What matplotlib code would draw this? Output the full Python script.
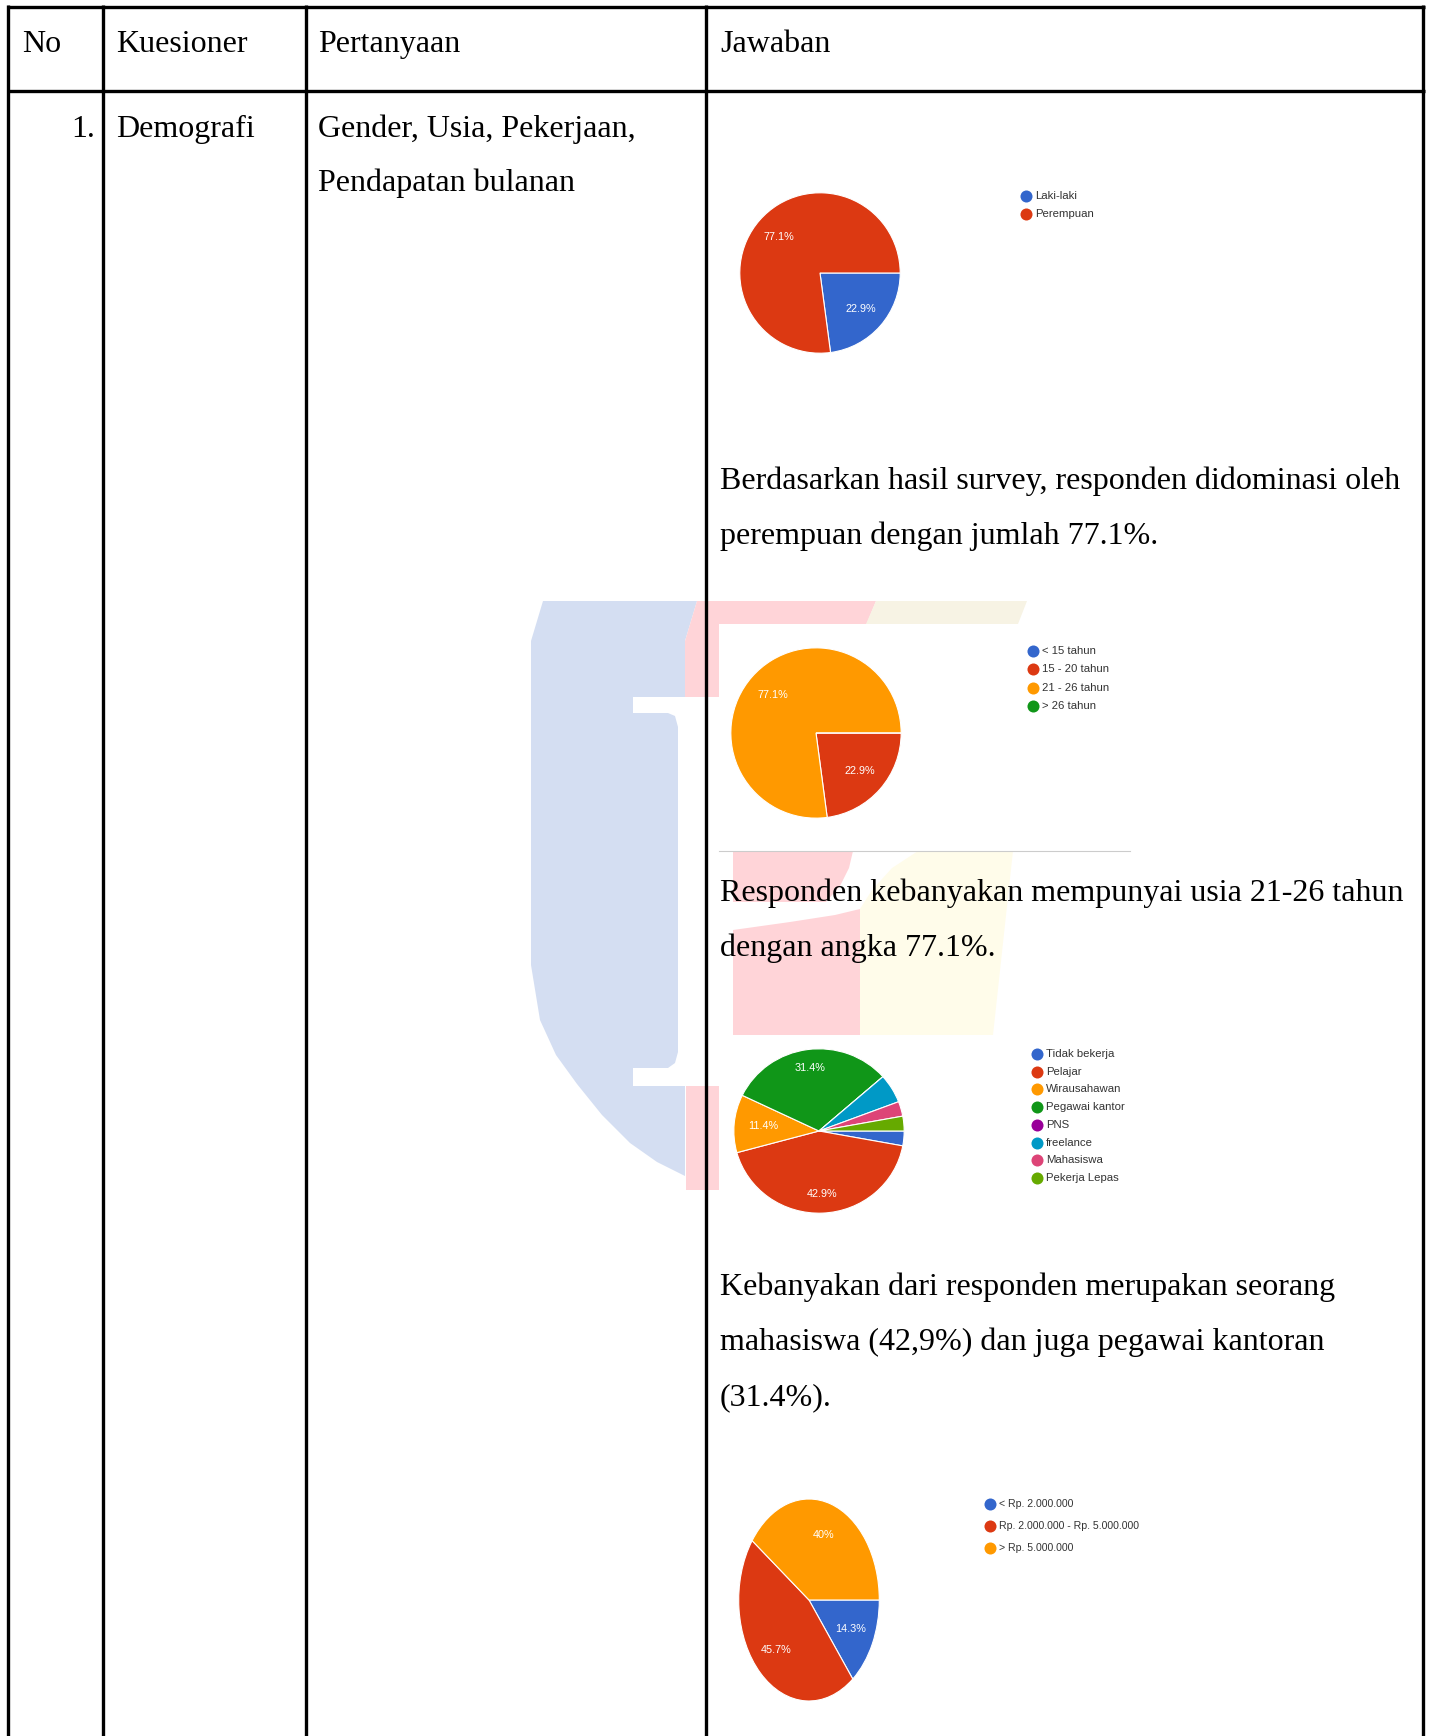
import numpy as np
import matplotlib
matplotlib.use("Agg")
import matplotlib.pyplot as plt
from matplotlib.patches import Polygon, Rectangle

W, H = 1429, 1736

# --- data ---
header = ['No', 'Kuesioner', 'Pertanyaan', 'Jawaban']
row_no = '1.'
row_kuesioner = 'Demografi'
row_pertanyaan = ['Gender, Usia, Pekerjaan,', 'Pendapatan bulanan']

gender_labels = ['Laki-laki', 'Perempuan']
gender_values = [22.9, 77.1]
age_labels = ['< 15 tahun', '15 - 20 tahun', '21 - 26 tahun', '> 26 tahun']
age_values = [0, 22.9, 77.1, 0]
job_labels = ['Tidak bekerja', 'Pelajar', 'Wirausahawan', 'Pegawai kantor',
              'PNS', 'freelance', 'Mahasiswa', 'Pekerja Lepas']
job_values = [2.9, 42.9, 11.4, 31.4, 0, 5.7, 2.9, 2.9]
income_labels = ['< Rp. 2.000.000', 'Rp. 2.000.000 - Rp. 5.000.000', '> Rp. 5.000.000']
income_values = [14.3, 45.7, 40]

text_gender = ['Berdasarkan hasil survey, responden didominasi oleh',
               'perempuan dengan jumlah 77.1%.']
text_age = ['Responden kebanyakan mempunyai usia 21-26 tahun',
            'dengan angka 77.1%.']
text_job = ['Kebanyakan dari responden merupakan seorang',
            'mahasiswa (42,9%) dan juga pegawai kantoran',
            '(31.4%).']

google = ['#3366CC', '#DC3912', '#FF9900', '#109618',
          '#990099', '#0099C6', '#DD4477', '#66AA00']

fig = plt.figure(figsize=(W / 100, H / 100), dpi=100)
ax = fig.add_axes([0, 0, 1, 1])
ax.set_xlim(0, W)
ax.set_ylim(H, 0)
ax.axis('off')

# --- faint logo watermark behind the table ---
wm_blue = '#D4DEF2'
wm_pink = '#FFD4D8'
wm_cream = '#FFFCEA'
blue = [(543, 601), (697, 601), (685, 641), (685, 1176), (657, 1162), (630, 1143),
        (602, 1115), (577, 1084), (556, 1055), (540, 1020), (531, 965), (531, 641)]
ax.add_patch(Polygon(blue, closed=True, fc=wm_blue, ec='none', zorder=1))
# white "I" cut-out with slightly rounded inner corners
cut = [(633, 697), (733, 697), (733, 1086), (633, 1086), (633, 1068),
       (668, 1068), (675, 1063), (678, 1052), (678, 727), (675, 716),
       (668, 713), (633, 713)]
ax.add_patch(Polygon(cut, closed=True, fc='white', ec='none', zorder=1.5))
pink1 = [(697, 601), (876, 601), (860, 640), (719, 640), (719, 697), (685, 697), (685, 641)]
ax.add_patch(Polygon(pink1, closed=True, fc=wm_pink, ec='none', zorder=1))
cream1 = [(876, 601), (1027, 601), (1018, 624), (866, 624)]
ax.add_patch(Polygon(cream1, closed=True, fc='#F7F3E4', ec='none', zorder=1))
pink2 = [(733, 851), (853, 851), (849, 868), (840, 886), (826, 902), (733, 902)]
ax.add_patch(Polygon(pink2, closed=True, fc=wm_pink, ec='none', zorder=1))
pink3 = [(733, 930), (790, 922), (835, 915), (860, 909), (860, 1035), (733, 1035)]
ax.add_patch(Polygon(pink3, closed=True, fc=wm_pink, ec='none', zorder=1))
cream2 = [(918, 851), (1013, 851), (993, 1035), (860, 1035), (860, 909),
          (872, 890), (892, 868)]
ax.add_patch(Polygon(cream2, closed=True, fc=wm_cream, ec='none', zorder=1))
ax.add_patch(Rectangle((686, 1086), 33, 104, fc=wm_pink, ec='none', zorder=1))

# white backgrounds of the pasted chart screenshots
ax.add_patch(Rectangle((719, 624), 411, 227, fc='white', ec='none', zorder=2))
ax.plot([719, 1130], [851, 851], color='#CCCCCC', lw=0.8, zorder=2.5)
ax.add_patch(Rectangle((719, 1035), 440, 180, fc='white', ec='none', zorder=2))

# --- table grid ---
lw = 2.4
for x in [8.5, 103, 306, 706, 1423]:
    ax.plot([x, x], [5, H], color='black', lw=lw, zorder=3, solid_capstyle='butt')
for y in [6.5, 91]:
    ax.plot([7, 1425], [y, y], color='black', lw=lw, zorder=3, solid_capstyle='butt')

serif = 'Liberation Serif'
fs = 23
for x, s in zip([22, 116, 318, 720], header):
    ax.text(x, 52, s, fontsize=fs, family=serif, va='baseline', zorder=6)
ax.text(95, 137, row_no, fontsize=fs, family=serif, va='baseline', ha='right', zorder=6)
ax.text(116, 137, row_kuesioner, fontsize=fs, family=serif, va='baseline', zorder=6)
for i, s in enumerate(row_pertanyaan):
    ax.text(318, 137 + i * 54.5, s, fontsize=fs, family=serif, va='baseline', zorder=6)


def paragraph(lines, y0):
    for i, s in enumerate(lines):
        ax.text(720, y0 + i * 55, s, fontsize=fs, family=serif, va='baseline', zorder=6)


paragraph(text_gender, 489)
paragraph(text_age, 901)
paragraph(text_job, 1295)


# --- pies ---
def draw_pie(cx, cy, rx, ry, values, colors, dist=0.68):
    pa = fig.add_axes([(cx - rx) / W, 1 - (cy + ry) / H, 2 * rx / W, 2 * ry / H])
    wedges, _ = pa.pie(values, colors=colors, startangle=0, counterclock=False,
                       wedgeprops=dict(edgecolor='white', linewidth=0.8))
    pa.set_xlim(-1.01, 1.01)
    pa.set_ylim(-1.01, 1.01)
    pa.set_aspect('auto')
    pa.axis('off')
    for w, v in zip(wedges, values):
        if v >= 10:
            t = np.deg2rad((w.theta1 + w.theta2) / 2)
            d = dist if abs(np.sin(t)) > 0.5 else 0.66
            pa.text(d * np.cos(t), d * np.sin(t), f'{v:g}%', ha='center',
                    va='center', color='white', fontsize=7.8, family='Liberation Sans')


def draw_legend(x, y0, dy, labels, colors, size=8.2):
    for i, (lab, c) in enumerate(zip(labels, colors)):
        y = y0 + i * dy
        ax.scatter([x], [y], s=75, color=c, zorder=5, linewidths=0)
        ax.text(x + 9, y, lab, fontsize=size, va='center', color='#333333',
                family='Liberation Sans', zorder=6)


draw_pie(820, 273, 81, 81, gender_values, google[:2])
draw_legend(1026, 196, 18, gender_labels, google[:2])

draw_pie(816, 733, 86, 86, age_values, google[:4])
draw_legend(1033, 651, 18.3, age_labels, google[:4])

draw_pie(819, 1131, 86, 83, job_values, google, dist=0.77)
draw_legend(1037, 1054, 17.7, job_labels, google)

draw_pie(809, 1600, 71, 102, income_values, google[:3])
draw_legend(990, 1504, 22, income_labels, google[:3], size=7.6)

fig.savefig('out.png', dpi=100)
